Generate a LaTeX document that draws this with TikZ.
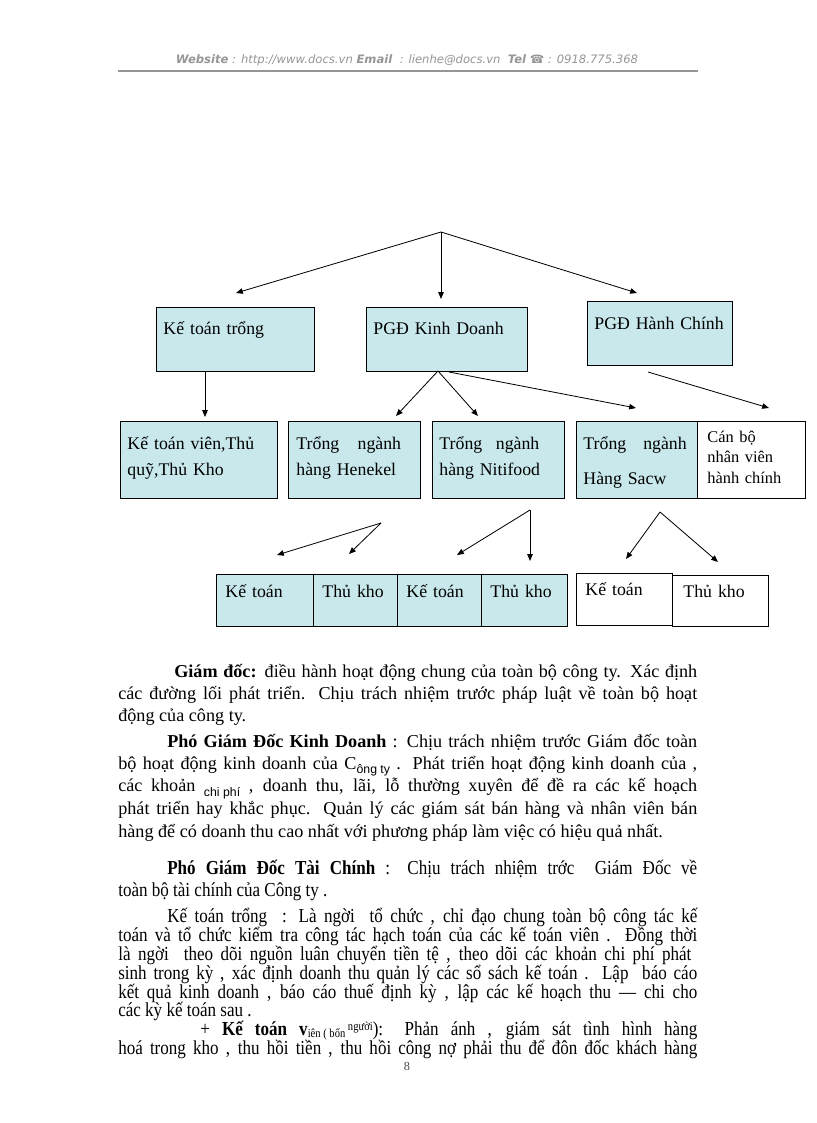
\documentclass[tikz,border=0pt]{standalone}
\usepackage{fontspec}
\setmainfont{Liberation Serif}
\setsansfont{Liberation Sans}
\newfontfamily\narrowfont[FakeStretch=0.86]{Liberation Serif}
\newfontfamily\headfont{DejaVu Sans}
\usetikzlibrary{arrows.meta,positioning}
\definecolor{boxblue}{RGB}{200,232,236}
\definecolor{headgray}{RGB}{150,150,150}
\newdimen\pxu \pxu=0.2573mm

\begin{document}
\begin{tikzpicture}[
        x=\pxu, y=-\pxu,
        box/.style={draw, line width=0.7pt, fill=boxblue, anchor=north west, inner xsep=7\pxu, inner ysep=0pt, align=left, font=\fontsize{13pt}{19pt}\selectfont},
        wbox/.style={box, fill=white},
        arr/.style={-{Triangle[length=5pt,width=4pt]}, line width=0.6pt},
        txt/.style={anchor=base west, inner sep=0pt, font=\fontsize{13.3pt}{16pt}\selectfont},
        ntxt/.style={txt, font=\fontsize{14.5pt}{16pt}\narrowfont}
    ]
    \useasboundingbox (0,0) rectangle (816,1123);
    \fill[white] (0,0) rectangle (816,1123);

    % header
    \node[font=\fontsize{8.5pt}{10pt}\headfont\itshape, text=headgray] (web) at (407,60)
        {\textbf{Website} : http://www.docs.vn \textbf{Email} \ : lienhe@docs.vn \ \textbf{Tel} ☎ : 0918.775.368};
    \draw[headgray, line width=1pt] (118,71) -- (698,71);

    % row 1
    \node[box, text width=144\pxu, text height=27\pxu, text depth=37\pxu] (ktt) at (156,307) {Kế toán trổng};
    \node[box, text width=147\pxu, text height=27\pxu, text depth=37\pxu] (pkd) at (366,307) {PGĐ Kinh Doanh};
    \node[box, text width=131\pxu, text height=28\pxu, text depth=36\pxu] (phc) at (587,301) {PGĐ Hành Chính};

    % row 2
    \node[box, text width=143\pxu, text height=28\pxu, text depth=49\pxu] (ktv) at (120,421) {Kế toán viên,Thủ\\quỹ,Thủ Kho};
    \node[box, inner xsep=8\pxu, text width=116\pxu, text height=28\pxu, text depth=49\pxu] (hnk) at (288,421) {Trổng\hspace{13.5pt}ngành\\hàng Henekel};
    \node[box, text width=118\pxu, text height=28\pxu, text depth=49\pxu] (ntf) at (432,421) {Trổng\hspace{10pt}ngành\\hàng Nitifood};
    \node[box, text width=107\pxu, text height=28\pxu, text depth=49\pxu] (scw) at (576,421) {Trổng\hspace{12.5pt}ngành\\[6.5pt]Hàng Sacw};
    \node[wbox, inner xsep=10\pxu, text width=88\pxu, text height=21\pxu, text depth=56\pxu, font=\fontsize{12pt}{15pt}\selectfont] (cbnv) at (697,421) {Cán bộ\\nhân viên\\hành chính};

    % row 3
    \node[box, inner xsep=9\pxu, text width=79\pxu, text height=23\pxu, text depth=29\pxu] (kt1) at (216,574) {Kế toán};
    \node[box, inner xsep=9\pxu, text width=66\pxu, text height=23\pxu, text depth=29\pxu] (tk1) at (313,574) {Thủ kho};
    \node[box, inner xsep=9\pxu, text width=66\pxu, text height=23\pxu, text depth=29\pxu] (kt2) at (397,574) {Kế toán};
    \node[box, inner xsep=9\pxu, text width=68\pxu, text height=23\pxu, text depth=29\pxu] (tk2) at (481,574) {Thủ kho};
    \node[wbox, inner xsep=9\pxu, text width=78\pxu, text height=22\pxu, text depth=30\pxu] (kt3) at (576,573) {Kế toán};
    \node[wbox, inner xsep=11\pxu, text width=74\pxu, text height=22\pxu, text depth=29\pxu] (tk3) at (672,575) {Thủ kho};

    % arrow ends
    \coordinate (gd) at (441,232);
    \coordinate (e1) at (236,293);
    \coordinate (e2) at (441,299);
    \coordinate (e3) at (637,293);
    \coordinate (s4) at (205,371);
    \coordinate (e4) at (205,417);
    \coordinate (s5) at (438,371);
    \coordinate (e5) at (396,416);
    \coordinate (e6) at (478,416);
    \coordinate (s7) at (449,372);
    \coordinate (e7) at (636,408);
    \coordinate (s8) at (648,372);
    \coordinate (e8) at (769,408);
    \coordinate (s9) at (381,523);
    \coordinate (e9) at (277,555);
    \coordinate (e10) at (349,554);
    \coordinate (s11) at (530,510);
    \coordinate (e11) at (457,555);
    \coordinate (e12) at (530,561);
    \coordinate (s13) at (660,512);
    \coordinate (e13) at (626,559);
    \coordinate (e14) at (718,562);

    \draw[arr] (gd) -- (e1);
    \draw[arr] (gd) -- (e2);
    \draw[arr] (gd) -- (e3);
    \draw[arr] (s4) -- (e4);
    \draw[arr] (s5) -- (e5);
    \draw[arr] (s5) -- (e6);
    \draw[arr] (s7) -- (e7);
    \draw[arr] (s8) -- (e8);
    \draw[arr] (s9) -- (e9);
    \draw[arr] (s9) -- (e10);
    \draw[arr] (s11) -- (e11);
    \draw[arr] (s11) -- (e12);
    \draw[arr] (s13) -- (e13);
    \draw[arr] (s13) -- (e14);

    % text below
    \node[txt] (t1) at (174,677) {\makebox[523\pxu][s]{\textbf{Giám đốc:} điều hành hoạt động chung của toàn bộ công ty. Xác định}};
    \node[txt] (t2) at (118,699) {\makebox[579\pxu][s]{các đường lối phát triển. Chịu trách nhiệm trước pháp luật về toàn bộ hoạt}};
    \node[txt] (t3) at (118,721) {động của công ty.};
    \node[txt] (t4) at (167,747) {\makebox[530\pxu][s]{\textbf{Phó Giám Đốc Kinh Doanh} : Chịu trách nhiệm trước Giám đốc toàn}};
    \node[txt] (t5) at (118,769) {\makebox[579\pxu][s]{bộ hoạt động kinh doanh của C\raisebox{-3pt}{\sffamily\small ông ty} . Phát triển hoạt động kinh doanh của ,}};
    \node[txt] (t6) at (118,791) {\makebox[579\pxu][s]{các khoản \raisebox{-4pt}{\sffamily\small chi phí} , doanh thu, lãi, lỗ thường xuyên để đề ra các kế hoạch}};
    \node[txt] (t7) at (118,814) {\makebox[579\pxu][s]{phát triển hay khắc phục. Quản lý các giám sát bán hàng và nhân viên bán}};
    \node[txt] (t8) at (118,837) {hàng để có doanh thu cao nhất với phương pháp làm việc có hiệu quả nhất.};
    \node[ntxt] (t9) at (167,874) {\makebox[530\pxu][s]{\textbf{Phó Giám Đốc Tài Chính} : Chịu trách nhiệm trớc \ Giám Đốc về}};
    \node[ntxt] (t10) at (118,896) {toàn bộ tài chính của Công ty .};
    \node[ntxt] (t11) at (167,922) {\makebox[530\pxu][s]{Kế toán trổng \ : Là ngời \ tổ chức , chỉ đạo chung toàn bộ công tác kế}};
    \node[ntxt] (t12) at (118,941) {\makebox[579\pxu][s]{toán và tổ chức kiểm tra công tác hạch toán của các kế toán viên . Đồng thời}};
    \node[ntxt] (t13) at (118,960) {\makebox[573\pxu][s]{là ngời \ theo dõi nguồn luân chuyển tiền tệ , theo dõi các khoản chi phí phát}};
    \node[ntxt] (t14) at (118,979) {\makebox[579\pxu][s]{sinh trong kỳ , xác định doanh thu quản lý các sổ sách kế toán . Lập \ báo cáo}};
    \node[ntxt] (t15) at (118,998) {\makebox[579\pxu][s]{kết quả kinh doanh , báo cáo thuế định kỳ , lập các kế hoạch thu — chi cho}};
    \node[ntxt] (t16) at (118,1016) {các kỳ kế toán sau .};
    \node[ntxt] (t17) at (200,1035) {\makebox[497\pxu][s]{+ \textbf{Kế toán v}\raisebox{-2pt}{\small iên ( bốn }\raisebox{3pt}{\small người}): Phản ánh , giám sát tình hình hàng}};
    \node[ntxt] (t18) at (118,1054) {\makebox[579\pxu][s]{hoá trong kho , thu hồi tiền , thu hồi công nợ phải thu để đôn đốc khách hàng}};

    \node[font=\fontsize{9pt}{10pt}\selectfont, text=black!70] (pg) at (407,1066) {8};
\end{tikzpicture}
\end{document}
